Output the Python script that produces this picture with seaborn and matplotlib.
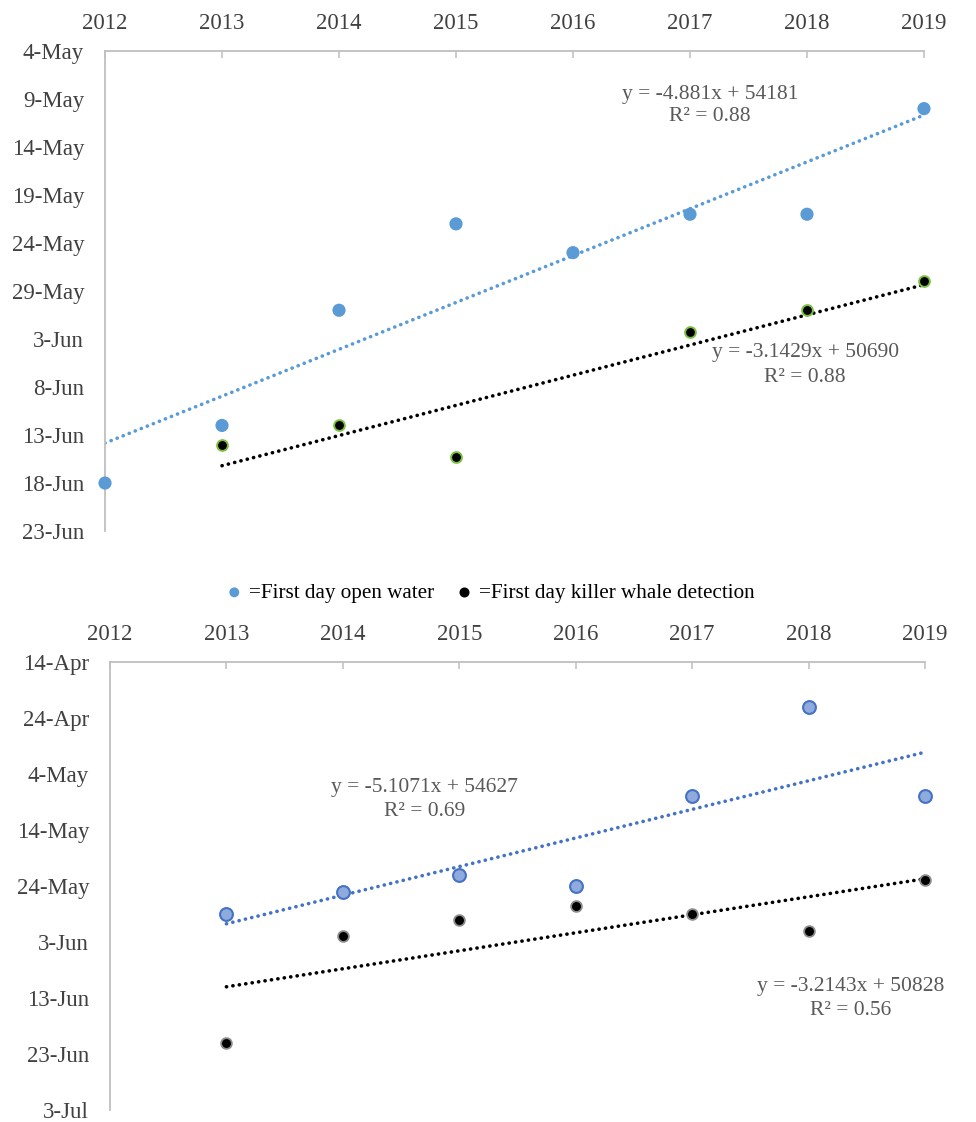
import matplotlib
matplotlib.use("Agg")
import matplotlib.pyplot as plt
import matplotlib.dates as mdates
from matplotlib.ticker import FixedLocator, FuncFormatter
from datetime import datetime
import numpy as np
import pandas as pd
import seaborn as sns

# Dates are stored as day-month labels (optionally with a time) in a common year
REF_YEAR = 2021

# Panel A
years_a = [2012, 2013, 2014, 2015, 2016, 2017, 2018, 2019]
open_water_a = ["18-Jun", "12-Jun", "31-May", "22-May", "25-May", "21-May", "21-May", "10-May"]
whale_years_a = [2013, 2014, 2015, 2017, 2018, 2019]
whale_a = ["14-Jun", "12-Jun", "15-Jun 07:12", "2-Jun 07:12", "31-May", "28-May"]
date_ticks_a = ["4-May", "9-May", "14-May", "19-May", "24-May", "29-May",
                "3-Jun", "8-Jun", "13-Jun", "18-Jun", "23-Jun"]

# Panel B
years_b = [2013, 2014, 2015, 2016, 2017, 2018, 2019]
open_water_b = ["29-May", "25-May", "22-May", "24-May", "8-May", "22-Apr", "8-May"]
whale_b = ["21-Jun", "2-Jun", "30-May", "27-May 12:00", "29-May", "1-Jun", "23-May"]
date_ticks_b = ["14-Apr", "24-Apr", "4-May", "14-May", "24-May", "3-Jun",
                "13-Jun", "23-Jun", "3-Jul"]

year_ticks = [2012, 2013, 2014, 2015, 2016, 2017, 2018, 2019]

legend_labels = ["=First day open water", "=First day killer whale detection"]

SERIF = ["Liberation Serif", "DejaVu Serif"]
TICK_COLOR = "#404040"
EQ_COLOR = "#595959"
SPINE_COLOR = "#bfbfbf"


def to_num(label):
    fmt = "%d-%b %H:%M-%Y" if ":" in label else "%d-%b-%Y"
    d = datetime.strptime(f"{label}-{REF_YEAR}", fmt)
    return mdates.date2num(d)


def fmt_date(value, pos=None):
    d = mdates.num2date(value)
    return f"{d.day}-{d.strftime('%b')}"


def trend_text(x, y_num):
    # Spreadsheet-style serial dates for the fitted equation
    serial = np.asarray(y_num) + 25569
    m, b = np.polyfit(x, serial, 1)
    r2 = np.corrcoef(x, serial)[0, 1] ** 2
    slope = f"{m:.4f}".rstrip("0").rstrip(".")
    sign = "+" if b >= 0 else "-"
    return f"y = {slope}x {sign} {abs(b):.0f}\nR\u00b2 = {r2:.2f}"


def style_axis(ax, ticks):
    ax.xaxis.tick_top()
    ax.set_xlim(2012, 2019)
    ax.xaxis.set_major_locator(FixedLocator(year_ticks))
    tick_nums = [to_num(t) for t in ticks]
    ax.set_ylim(tick_nums[-1], tick_nums[0])
    ax.yaxis.set_major_locator(FixedLocator(tick_nums))
    ax.yaxis.set_major_formatter(FuncFormatter(fmt_date))
    for side in ("right", "bottom"):
        ax.spines[side].set_visible(False)
    for side in ("left", "top"):
        ax.spines[side].set_color(SPINE_COLOR)
        ax.spines[side].set_linewidth(1.3)
    ax.tick_params(axis="both", direction="in", length=5, width=1.1,
                   color=SPINE_COLOR, labelcolor=TICK_COLOR, labelsize=16.5)
    ax.tick_params(axis="y", pad=15)
    ax.tick_params(axis="x", pad=12)
    for lab in ax.get_xticklabels() + ax.get_yticklabels():
        lab.set_family(SERIF)
    ax.set_xlabel("")
    ax.set_ylabel("")
    ax.grid(False)


def dotted(color):
    return dict(color=color, lw=2.6, linestyle=(0, (0.05, 1.75)),
                dash_capstyle="round")


def equation(ax, x, y, text, spacing):
    ax.text(x, y, text, transform=ax.transAxes, ha="center", va="center",
            multialignment="center", fontsize=15.5, color=EQ_COLOR,
            linespacing=spacing)


sns.set_style("white")
plt.rcParams["font.family"] = SERIF

fig = plt.figure(figsize=(9.76, 11.22), dpi=100)
ax1 = fig.add_axes([0.1076, 0.5267, 0.8391, 0.4278])
ax2 = fig.add_axes([0.1127, 0.0107, 0.8350, 0.3993])

# ---- Panel A ----
ow_a = [to_num(v) for v in open_water_a]
wh_a = [to_num(v) for v in whale_a]
df_ow_a = pd.DataFrame({"year": years_a, "date": ow_a})
df_wh_a = pd.DataFrame({"year": whale_years_a, "date": wh_a})

sns.regplot(data=df_ow_a, x="year", y="date", ax=ax1, scatter=False, ci=None,
            truncate=True, line_kws=dotted("#5B9BD5"))
sns.regplot(data=df_wh_a, x="year", y="date", ax=ax1, scatter=False, ci=None,
            truncate=True, line_kws=dotted("#000000"))
sns.scatterplot(data=df_ow_a, x="year", y="date", ax=ax1, s=90,
                color="#5B9BD5", edgecolor="none", linewidth=0,
                label=legend_labels[0], zorder=3, legend=False, clip_on=False)
sns.scatterplot(data=df_wh_a, x="year", y="date", ax=ax1, s=60,
                color="#000000", edgecolor="#7CC043", linewidth=1.4,
                label=legend_labels[1], zorder=3, legend=False, clip_on=False)
style_axis(ax1, date_ticks_a)

equation(ax1, 0.739, 0.886, trend_text(years_a, ow_a), 1.2)
equation(ax1, 0.855, 0.346, trend_text(whale_years_a, wh_a), 1.45)

# ---- Panel B ----
ow_b = [to_num(v) for v in open_water_b]
wh_b = [to_num(v) for v in whale_b]
df_ow_b = pd.DataFrame({"year": years_b, "date": ow_b})
df_wh_b = pd.DataFrame({"year": years_b, "date": wh_b})

sns.regplot(data=df_ow_b, x="year", y="date", ax=ax2, scatter=False, ci=None,
            truncate=True, line_kws=dotted("#4472C4"))
sns.regplot(data=df_wh_b, x="year", y="date", ax=ax2, scatter=False, ci=None,
            truncate=True, line_kws=dotted("#000000"))
sns.scatterplot(data=df_ow_b, x="year", y="date", ax=ax2, s=85,
                color="#8FAADC", edgecolor="#4472C4", linewidth=1.5,
                zorder=3, legend=False, clip_on=False)
sns.scatterplot(data=df_wh_b, x="year", y="date", ax=ax2, s=60,
                color="#000000", edgecolor="#8c8c8c", linewidth=1.3,
                zorder=3, legend=False, clip_on=False)
style_axis(ax2, date_ticks_b)

equation(ax2, 0.386, 0.693, trend_text(years_b, ow_b), 1.3)
equation(ax2, 0.909, 0.249, trend_text(years_b, wh_b), 1.3)

# ---- Shared legend between the panels ----
handles, labels = ax1.get_legend_handles_labels()
if ax1.get_legend() is not None:
    ax1.get_legend().remove()
leg = fig.legend(handles, labels, loc="center",
                 bbox_to_anchor=(490 / 976, 1 - 593 / 1122),
                 ncol=2, frameon=False, markerscale=0.75, handlelength=0.8,
                 handletextpad=0.3, columnspacing=1.0,
                 prop={"family": SERIF, "size": 15.2})
leg.legend_handles[1].set_edgecolor("#000000")
for t in leg.get_texts():
    t.set_color("#000000")

fig.savefig("out.png", dpi=100, facecolor="white")
